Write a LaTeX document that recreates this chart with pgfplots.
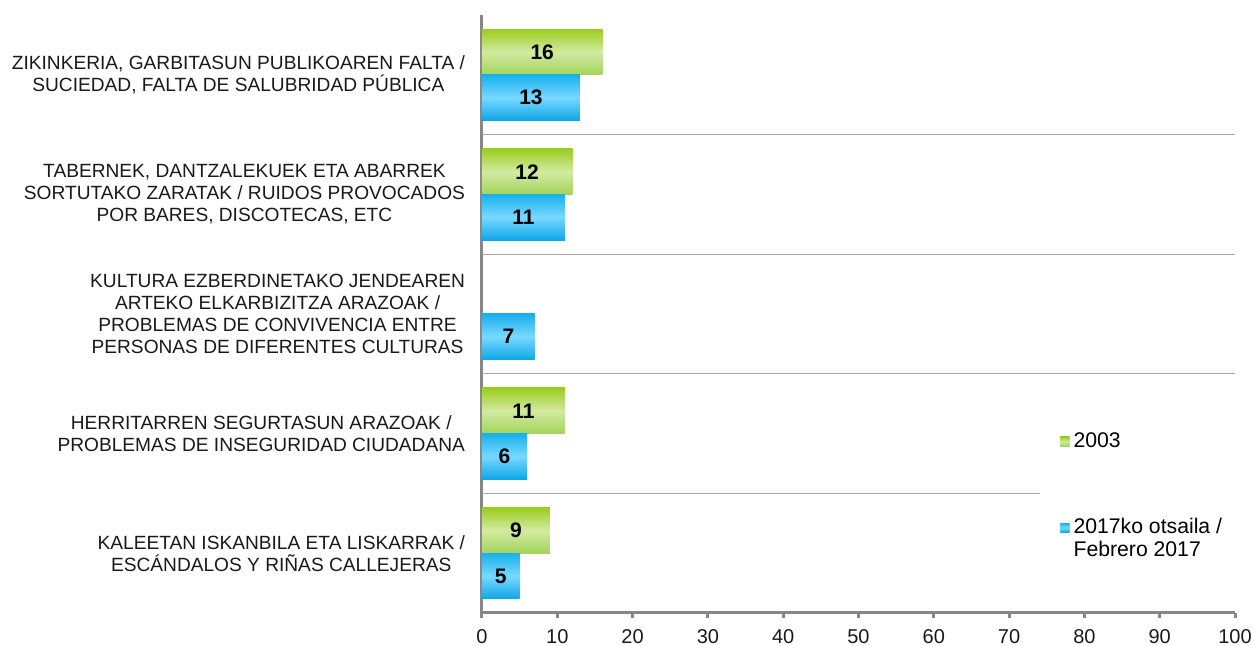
\documentclass[border=0pt]{standalone}
\usepackage{fontspec}
\setmainfont{Liberation Sans}
\usepackage{pgfplots}
\usepackage{pgfplotstable}
\pgfplotsset{compat=1.18}
\definecolor{gTop}{HTML}{9ACD1E}
\definecolor{gMid}{HTML}{D3EAA2}
\definecolor{gBot}{HTML}{A2D45A}
\definecolor{bTop}{HTML}{17B0EC}
\definecolor{bMid}{HTML}{78D9FF}
\definecolor{bBot}{HTML}{0EA6E6}
\definecolor{axgray}{HTML}{878787}
\definecolor{gridgray}{HTML}{A6A6A6}

\pgfplotstableread{
y g b
4 16 13
3 12 11
2 nan 7
1 11 6
0 9 5
}\data

\pgfplotsset{
  gbar/.style={xbar, bar width=0.383, bar shift=0.19, draw=none,
    top color=gTop, bottom color=gBot, middle color=gMid, forget plot},
  bbar/.style={xbar, bar width=0.383, bar shift=-0.19, draw=none,
    top color=bTop, bottom color=bBot, middle color=bMid, forget plot},
}

\begin{document}
\begin{tikzpicture}
\useasboundingbox (0,0) rectangle (627.5pt,323pt);
\begin{axis}[
  at={(241pt,16.5pt)}, anchor=south west,
  scale only axis, width=376.5pt, height=299pt,
  xmin=0, xmax=100, ymin=-0.5, ymax=4.5,
  axis x line*=bottom, axis y line*=left,
  axis line style={axgray, line width=1.5pt, -},
  xtick={0,10,...,100},
  tick align=outside,
  major tick length=2.5pt, minor tick length=2.5pt,
  tick style={axgray, line width=1.5pt},
  ytick={0,1,2,3,4},
  ytick style={draw=none},
  minor ytick={-0.5,0.5,1.5,2.5,3.5,4.5},
  minor y tick style={axgray, line width=1.5pt},
  extra y ticks={0.5,1.5,2.5,3.5},
  extra y tick labels={},
  extra y tick style={grid=major, major grid style={gridgray, line width=0.6pt}, tick style={draw=none}},
  yticklabels={
    {KALEETAN ISKANBILA ETA LISKARRAK /\\ESCÁNDALOS Y RIÑAS CALLEJERAS},
    {HERRITARREN SEGURTASUN ARAZOAK /\\PROBLEMAS DE INSEGURIDAD CIUDADANA},
    {KULTURA EZBERDINETAKO JENDEAREN\\ARTEKO ELKARBIZITZA ARAZOAK /\\PROBLEMAS DE CONVIVENCIA ENTRE\\PERSONAS DE DIFERENTES CULTURAS},
    {TABERNEK, DANTZALEKUEK ETA ABARREK\\SORTUTAKO ZARATAK / RUIDOS PROVOCADOS\\POR BARES, DISCOTECAS, ETC},
    {ZIKINKERIA, GARBITASUN PUBLIKOAREN FALTA /\\SUCIEDAD, FALTA DE SALUBRIDAD PÚBLICA}
  },
  yticklabel style={align=center, font=\fontsize{9.57pt}{11pt}\selectfont, text=black!90, xshift=-2.5pt},
  xticklabel style={font=\fontsize{10pt}{12pt}\selectfont, text=black!90, yshift=-2pt},
  /pgf/number format/assume math mode=true,
  legend style={draw=none, fill=white, at={(0.741,0.319)}, anchor=north west,
    inner xsep=10pt, inner ysep=3pt, row sep=30pt,
    font=\fontsize{10.6pt}{11.2pt}\selectfont,
    nodes={align=left}},
  legend cell align=left,
]
\addlegendimage{legend image code/.code={\path[draw=none, top color=gTop, bottom color=gBot, middle color=gMid] (0pt,-2.3pt) rectangle (4.6pt,2.3pt);}}
\addlegendentry{2003}
\addlegendimage{legend image code/.code={\path[draw=none, top color=bTop, bottom color=bBot, middle color=bMid] (0pt,3.3pt) rectangle (4.6pt,7.9pt);}}
\addlegendentry{2017ko otsaila /\\Febrero 2017}
% 2003
\addplot[gbar] coordinates {(16,4)};
\addplot[gbar] coordinates {(12,3)};
\addplot[gbar] coordinates {(11,1)};
\addplot[gbar] coordinates {(9,0)};
% 2017
\addplot[bbar] coordinates {(13,4)};
\addplot[bbar] coordinates {(11,3)};
\addplot[bbar] coordinates {(7,2)};
\addplot[bbar] coordinates {(6,1)};
\addplot[bbar] coordinates {(5,0)};
% value labels
\addplot[draw=none, mark=none, forget plot, nodes near coords, point meta=explicit symbolic,
  nodes near coords style={anchor=center, font=\fontsize{10.5pt}{12pt}\selectfont\bfseries}]
  table[x expr=\thisrow{g}/2, y expr=\thisrow{y}+0.19, meta=g] {\data};
\addplot[draw=none, mark=none, forget plot, nodes near coords, point meta=explicit symbolic,
  nodes near coords style={anchor=center, font=\fontsize{10.5pt}{12pt}\selectfont\bfseries}]
  table[x expr=\thisrow{b}/2, y expr=\thisrow{y}-0.19, meta=b] {\data};
\end{axis}
\end{tikzpicture}
\end{document}
